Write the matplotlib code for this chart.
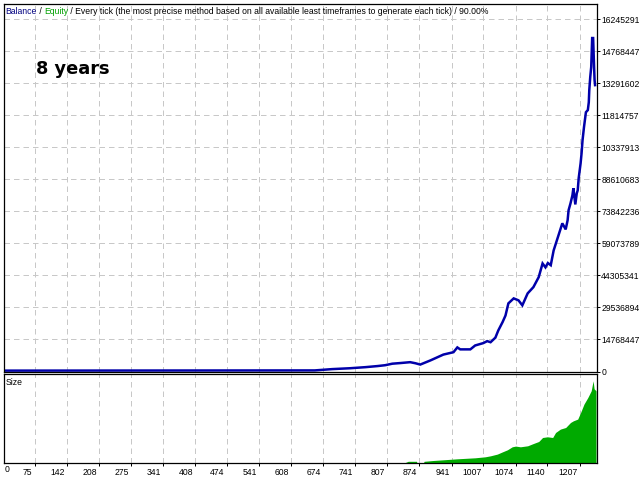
import matplotlib
matplotlib.use("Agg")
import matplotlib.pyplot as plt
import matplotlib.transforms as mtransforms

W, H = 640, 480

# ---- data ----
balance_bars = [0, 657, 693, 730, 762, 787, 803, 818, 835, 855, 866, 876, 897, 924, 945,
                953, 959, 980, 990, 1007, 1015, 1022, 1032, 1038, 1047, 1053, 1059, 1070,
                1080, 1088, 1099, 1111, 1122, 1130, 1136, 1141, 1147, 1153, 1167, 1171,
                1178, 1182, 1184, 1188, 1192, 1194, 1198, 1201, 1203, 1205, 1209, 1211,
                1213, 1216, 1220, 1224, 1226, 1227, 1229, 1231, 1233, 1235, 1237, 1238, 1239]
balance_musd = [0.4, 0.5, 1.1, 1.5, 2.0, 2.5, 2.9, 3.6, 3.9, 4.3, 3.8, 3.2, 5.1, 7.8, 8.9,
                11.1, 10.2, 10.2, 12.0, 13.1, 14.0, 13.5, 15.6, 18.9, 22.8, 25.8, 31.4, 33.7,
                32.8, 30.5, 36.0, 38.9, 43.5, 49.8, 48.0, 50.0, 49.0, 55.8, 65.5, 68.3,
                65.5, 69.7, 74.3, 77.5, 81.2, 84.5, 77.0, 82.1, 83.5, 89.1, 96.0, 100.6,
                106.6, 112.6, 119.5, 120.5, 124.1, 129.7, 135.7, 140.3, 153.7, 153.7, 140.3, 134.3, 132.0]

size_bars = [845, 851, 868, 869, 883, 884, 903, 924, 953, 990, 1011, 1022, 1036, 1047, 1057,
             1067, 1074, 1084, 1099, 1111, 1122, 1130, 1140, 1151, 1157, 1167, 1178, 1188,
             1194, 1203, 1209, 1216, 1224, 1231, 1235, 1237, 1241]
size_lots = [0, 1.2, 1.2, 0, 0, 1.2, 2.0, 2.7, 3.7, 4.7, 5.7, 6.7, 8.4, 10.7, 12.7,
             15.7, 16.4, 15.7, 16.7, 19.0, 21.0, 25.0, 25.7, 25.0, 30.0, 33.4, 35.0, 40.0,
             41.7, 43.4, 50.0, 58.4, 65.0, 71.7, 81.7, 73.7, 71.7]

x_ticks = [75, 142, 208, 275, 341, 408, 474, 541, 608, 674, 741, 807, 874, 941,
           1007, 1074, 1140, 1207]
x_tick_labels = [str(v) for v in x_ticks]
y_step = 14768447
y_ticks = [i * y_step for i in range(12)]
y_tick_labels = ['0', '14768447', '29536894', '44305341', '59073789', '73842236',
                 '88610683', '10337913', '11814757', '13291602', '14768447', '16245291']

title_parts = [("Balance", "#000080"), (" / ", "black"), ("Equity", "#00A000"),
               (" / Every tick (the most precise method based on all available least "
                "timeframes to generate each tick) / 90.00%", "black")]

# ---- style ----
small_font = ['Liberation Sans', 'DejaVu Sans']
fs = 6.2
grid_kw = dict(color='#C8C8C8', linestyle=(0, (5.5, 4)), linewidth=0.72)

fig = plt.figure(figsize=(W / 100, H / 100), dpi=100)
fig.patch.set_facecolor('white')

L, R = 3.5, 596.5
ax = fig.add_axes([L / W, (H - 371.5) / H, (R - L) / W, 367.5 / H])
ax2 = fig.add_axes([L / W, (H - 462.5) / H, (R - L) / W, 89 / H])

xmin, xmax = 10.5, 1242
bal = [v * 1e6 for v in balance_musd]
ax.plot(balance_bars, bal, color='#0000AA', linewidth=1.8, solid_joinstyle='miter')
ax.set_xlim(xmin, xmax)
ax.set_ylim(0, 11.47 * y_step)
ax.set_xticks(x_ticks)
ax.tick_params(axis='x', length=0, labelbottom=False)
ax.yaxis.tick_right()
ax.set_yticks(y_ticks)
ax.set_yticklabels(y_tick_labels, fontfamily=small_font, fontsize=fs)
ax.tick_params(axis='y', direction='out', length=3 * 0.72, width=0.72, pad=1.2)
ax.grid(True, **grid_kw)

ax2.fill_between(size_bars, 0, size_lots, color='#00AA00', linewidth=0)
ax2.set_xlim(xmin, xmax)
ax2.set_ylim(0, 89)
ax2.set_yticks([])
ax2.set_xticks(x_ticks)
ax2.set_xticklabels(x_tick_labels, fontfamily=small_font, fontsize=fs)
ax2.tick_params(axis='x', direction='out', length=3 * 0.72, width=0.72, pad=1.5)
off = mtransforms.ScaledTranslation(-2 / 100, 0, fig.dpi_scale_trans)
for lab in ax2.get_xticklabels():
    lab.set_horizontalalignment('right')
    lab.set_transform(lab.get_transform() + off)
ax2.grid(True, axis='x', **grid_kw)

for a in (ax, ax2):
    for s in a.spines.values():
        s.set_linewidth(0.9)
        s.set_color('black')
    a.set_axisbelow(True)

fig.text(4.5 / W, 1 - 465.5 / H, '0', ha='left', va='top', fontfamily=small_font, fontsize=fs)
fig.text(6 / W, 1 - 378 / H, 'Size', ha='left', va='top', fontfamily=small_font, fontsize=fs)
fig.text(36 / W, 1 - 73.5 / H, '8 years', ha='left', va='baseline',
         fontfamily='DejaVu Sans', fontweight='bold', fontsize=12.8)

fig.canvas.draw()
renderer = fig.canvas.get_renderer()
x = 5.5
for s, c in title_parts:
    t = fig.text(x / W, 1 - 14.5 / H, s, color=c, ha='left', va='baseline',
                 fontfamily=small_font, fontsize=fs)
    x += t.get_window_extent(renderer).width

fig.savefig('out.png', dpi=100, facecolor='white')
